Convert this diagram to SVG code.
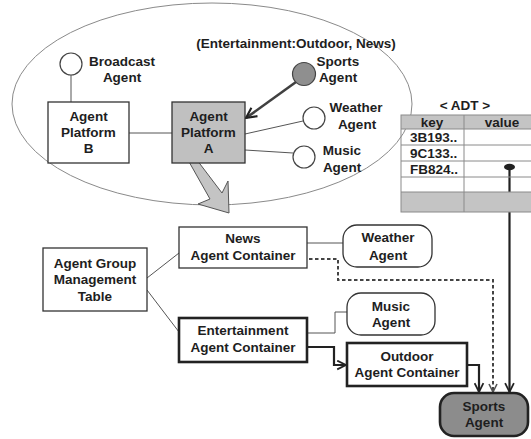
<svg xmlns="http://www.w3.org/2000/svg" width="531" height="439" viewBox="0 0 531 439">
<defs>
<style>
text{font-family:"Liberation Sans",Arial,sans-serif;font-weight:bold;font-size:13.5px;fill:#1e1e1e;text-anchor:middle}
.l{text-anchor:start}
.thin{stroke:#555;stroke-width:1;fill:none}
.box{fill:#fff;stroke:#333;stroke-width:1.3}
.thick{fill:#fff;stroke:#222;stroke-width:2.6}
.circ{fill:#fff;stroke:#444;stroke-width:1.2}
.conn{stroke:#222;stroke-width:2.2;fill:none}
.dash{stroke:#444;stroke-width:2;fill:none;stroke-dasharray:3.5 2.5}
.tb{stroke:#8a8a8a;stroke-width:1;fill:none}
</style>
<marker id="ah" viewBox="0 0 10 10" refX="9" refY="5" markerWidth="5" markerHeight="5" orient="auto" markerUnits="strokeWidth">
<path d="M1,1 L9,5 L1,9" fill="none" stroke="#222" stroke-width="1.6"/>
</marker>
<marker id="ahg" viewBox="0 0 10 10" refX="9" refY="5" markerWidth="5" markerHeight="5" orient="auto" markerUnits="strokeWidth">
<path d="M1,1 L9,5 L1,9" fill="none" stroke="#555" stroke-width="1.6"/>
</marker>
</defs>
<rect width="531" height="439" fill="#fff"/>

<g id="platform-domain">
<ellipse cx="212" cy="104" rx="200" ry="101" fill="none" stroke="#8a8a8a" stroke-width="1"/>
<text x="296" y="48">(Entertainment:Outdoor, News)</text>
</g>

<g id="connectors">
<line class="thin" x1="71" y1="75" x2="71" y2="102"/>
<line class="thin" x1="129" y1="133" x2="172" y2="133"/>
<line x1="296" y1="82" x2="246" y2="118" stroke="#404040" stroke-width="2.6" marker-end="url(#ah)"/>
<line class="thin" x1="245" y1="134" x2="303" y2="121"/>
<line class="thin" x1="245" y1="150" x2="293" y2="153"/>
<polygon points="188,160 210,199 198,204 229,213 228,181 222,193 197,160" fill="#c4c4c4" stroke="#555" stroke-width="1"/>
<line class="thin" x1="147" y1="278" x2="179" y2="253"/>
<line class="thin" x1="147" y1="290" x2="179" y2="332"/>
<line class="thin" x1="307" y1="243" x2="343" y2="243"/>
<path class="dash" d="M309,259 H338 V280 H493 V392" marker-end="url(#ahg)"/>
<path class="thin" d="M307,333 H335 V312 H347"/>
<path class="conn" d="M307,347 H334 V365 H346" marker-end="url(#ah)"/>
<path class="conn" d="M467,365 H479 V392" marker-end="url(#ah)"/>
<line class="conn" x1="509.5" y1="167" x2="509.5" y2="392" marker-end="url(#ah)"/>
</g>

<g id="broadcast-agent">
<circle class="circ" cx="71" cy="64" r="11"/>
<text x="122" y="66">Broadcast</text>
<text x="122" y="82">Agent</text>
</g>

<g id="agent-platform-b">
<rect class="box" x="48" y="102" width="81" height="61"/>
<text x="88.5" y="121">Agent</text>
<text x="88.5" y="137">Platform</text>
<text x="88.5" y="153">B</text>
</g>

<g id="agent-platform-a">
<rect x="172" y="102" width="73" height="61" fill="#c0c0c0" stroke="#333" stroke-width="1.3"/>
<text x="208.5" y="121">Agent</text>
<text x="208.5" y="137">Platform</text>
<text x="208.5" y="153">A</text>
</g>

<g id="sports-agent-top">
<circle cx="304" cy="74" r="11.5" fill="#8f8f8f" stroke="#444" stroke-width="1.2"/>
<text x="338" y="66">Sports</text>
<text x="338" y="82">Agent</text>
</g>

<g id="weather-agent-top">
<circle class="circ" cx="314" cy="118" r="11"/>
<text x="356" y="112">Weather</text>
<text x="357" y="129">Agent</text>
</g>

<g id="music-agent-top">
<circle class="circ" cx="304" cy="157" r="11"/>
<text x="342" y="155">Music</text>
<text x="342" y="172">Agent</text>
</g>

<g id="adt">
<text x="465" y="110">&lt; ADT  &gt;</text>
<rect x="401" y="115" width="140" height="14" fill="#c4c4c4"/>
<rect x="401" y="192" width="140" height="20" fill="#c4c4c4"/>
<rect class="tb" x="401" y="115" width="140" height="97"/>
<path class="tb" d="M401,129 H541 M401,145 H541 M401,161 H541 M401,177 H541 M401,192 H541 M464,115 V212"/>
<text x="432" y="127">key</text>
<text x="502" y="127">value</text>
<text class="l" x="410" y="142">3B193..</text>
<text class="l" x="410" y="158">9C133..</text>
<text class="l" x="410" y="174">FB824..</text>
<ellipse cx="509.5" cy="167" rx="5.5" ry="3.2" fill="#222"/>
</g>

<g id="agent-group-management-table">
<rect class="box" x="43" y="248" width="104" height="63"/>
<text x="95" y="268">Agent Group</text>
<text x="95" y="284">Management</text>
<text x="95" y="301">Table</text>
</g>

<g id="news-agent-container">
<rect class="box" x="179" y="227" width="128" height="41"/>
<text x="243" y="243">News</text>
<text x="243" y="260">Agent Container</text>
</g>

<g id="entertainment-agent-container">
<rect class="thick" x="179" y="318" width="128" height="44"/>
<text x="243" y="335">Entertainment</text>
<text x="243" y="352">Agent Container</text>
</g>

<g id="weather-agent">
<rect class="box" x="343" y="225" width="89" height="42" rx="14"/>
<text x="388" y="242">Weather</text>
<text x="388" y="260">Agent</text>
</g>

<g id="music-agent">
<rect class="box" x="347" y="293" width="88" height="42" rx="14"/>
<text x="391" y="311">Music</text>
<text x="391" y="327">Agent</text>
</g>

<g id="outdoor-agent-container">
<rect class="thick" x="347" y="343" width="120" height="43"/>
<text x="407" y="361">Outdoor</text>
<text x="407" y="377">Agent Container</text>
</g>

<g id="sports-agent">
<rect x="440" y="393" width="88" height="43" rx="14" fill="#8c8c8c" stroke="#222" stroke-width="2.6"/>
<text x="484" y="411">Sports</text>
<text x="484" y="427">Agent</text>
</g>
</svg>
